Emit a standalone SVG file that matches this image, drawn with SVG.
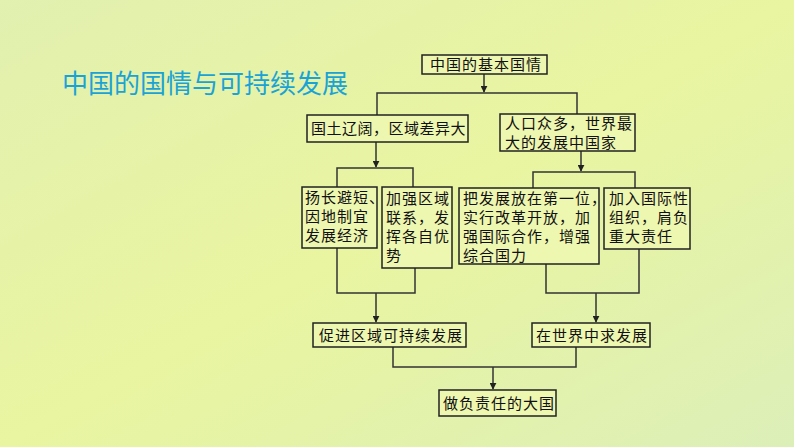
<svg xmlns="http://www.w3.org/2000/svg" width="794" height="447" viewBox="0 0 794 447">
<defs>
<linearGradient id="bg" x1="0" y1="0" x2="1" y2="1">
<stop offset="0" stop-color="#e2f0b0"/><stop offset="0.5" stop-color="#e9f5a0"/><stop offset="1" stop-color="#dcefb8"/>
</linearGradient>
<marker id="ar" viewBox="0 0 10 10" refX="9" refY="5" markerWidth="7" markerHeight="7" orient="auto" markerUnits="userSpaceOnUse"><path d="M0,0 L10,5 L0,10 z" fill="#222"/></marker>
<style>
.b{fill:#eef7b0;stroke:#222;stroke-width:1.5}
.t{font-family:"Noto Sans CJK SC",sans-serif;font-size:15px;fill:#111;letter-spacing:1px}
.c{fill:none;stroke:#333;stroke-width:1.5}
</style>
</defs>
<rect width="794" height="447" fill="url(#bg)"/>
<text x="62" y="93" font-family="'Noto Sans CJK SC',sans-serif" font-size="26" fill="#1aa3d6">中国的国情与可持续发展</text>
<g id="connectors">
<path class="c" d="M484,74V92" marker-end="url(#ar)"/>
<path class="c" d="M377,115V93H577V114"/>
<path class="c" d="M376,142V167" marker-end="url(#ar)"/>
<path class="c" d="M337,187V168H413V187"/>
<path class="c" d="M581,151V171" marker-end="url(#ar)"/>
<path class="c" d="M533,188V172H635V188"/>
<path class="c" d="M337,248V293H415V268"/>
<path class="c" d="M376,293V322" marker-end="url(#ar)"/>
<path class="c" d="M546,257V293H639V249"/>
<path class="c" d="M596,293V322" marker-end="url(#ar)"/>
<path class="c" d="M393,347V367H576V347"/>
<path class="c" d="M493,367V389" marker-end="url(#ar)"/>
</g>
<g id="n1"><rect class="b" x="422" y="55" width="125" height="19"/><text class="t" x="430" y="70">中国的基本国情</text></g>
<g id="n2"><rect class="b" x="307" y="115" width="161" height="27"/><text class="t" x="311" y="134" style="letter-spacing:0.5px">国土辽阔，区域差异大</text></g>
<g id="n3"><rect class="b" x="500" y="114" width="135" height="37"/><text class="t" x="505" y="129">人口众多，世界最</text><text class="t" x="505" y="148">大的发展中国家</text></g>
<g id="n4"><rect class="b" x="302" y="187" width="75" height="61"/><text class="t" x="305" y="203">扬长避短、</text><text class="t" x="305" y="222">因地制宜</text><text class="t" x="305" y="241">发展经济</text></g>
<g id="n5"><rect class="b" x="382" y="187" width="70" height="81"/><text class="t" x="386" y="204">加强区域</text><text class="t" x="386" y="223">联系，发</text><text class="t" x="386" y="242">挥各自优</text><text class="t" x="386" y="261">势</text></g>
<g id="n6"><rect class="b" x="459" y="188" width="140" height="76"/><text class="t" x="463" y="204">把发展放在第一位，</text><text class="t" x="463" y="223">实行改革开放，加</text><text class="t" x="463" y="242">强国际合作，增强</text><text class="t" x="463" y="261">综合国力</text></g>
<g id="n7"><rect class="b" x="604" y="188" width="86" height="61"/><text class="t" x="609" y="204">加入国际性</text><text class="t" x="609" y="223">组织，肩负</text><text class="t" x="609" y="242">重大责任</text></g>
<g id="n8"><rect class="b" x="313" y="323" width="153" height="24"/><text class="t" x="319" y="341">促进区域可持续发展</text></g>
<g id="n9"><rect class="b" x="532" y="323" width="118" height="24"/><text class="t" x="536" y="341">在世界中求发展</text></g>
<g id="n10"><rect class="b" x="439" y="390" width="117" height="26"/><text class="t" x="443" y="409">做负责任的大国</text></g>
</svg>
